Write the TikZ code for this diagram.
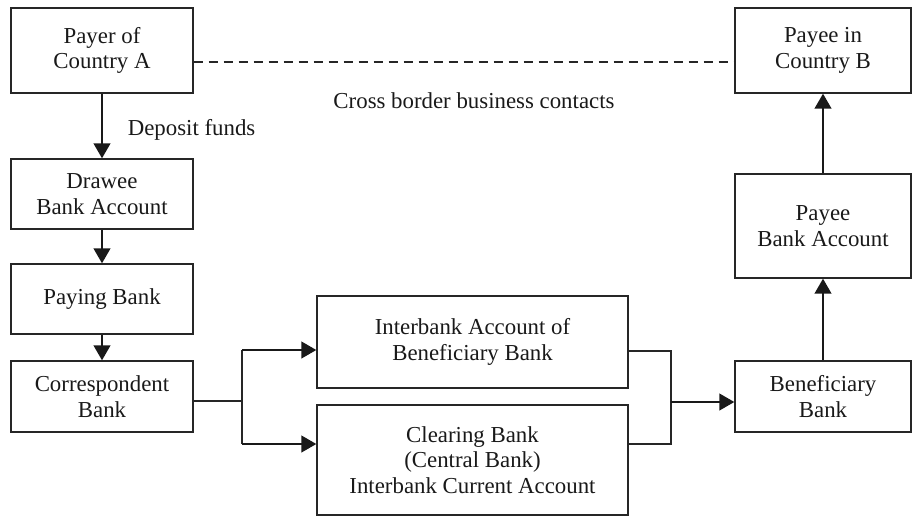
\documentclass[tikz,border=0pt]{standalone}
\usepackage{fontspec}
\setmainfont{Liberation Serif}
\usetikzlibrary{arrows.meta,positioning}

\begin{document}
\begin{tikzpicture}
  [
    x=0.02cm, y=-0.02cm,
    every node/.style={font=\fontsize{13}{14.5}\selectfont, text=black!90},
    boxnode/.style={rectangle, draw=black!85, line width=0.8pt, align=center, inner sep=0pt, minimum width=3.64cm, minimum height=1.4cm},
    rightboxnode/.style={boxnode, minimum width=3.52cm},
    widenode/.style={boxnode, minimum width=6.22cm},
    flowarrow/.style={draw=black!90, line width=1.1pt, -{Triangle[length=8.5pt, width=9.5pt]}},
    thinline/.style={draw=black!85, line width=0.75pt},
    dashline/.style={draw=black!85, line width=0.75pt, dash pattern=on 0.18cm off 0.12cm},
  ]
  \useasboundingbox (0,0) rectangle (912,517);

  % left column
  \node[boxnode, minimum height=1.7cm] (payer) at (102,50.5) {Payer of\\Country A};
  \node[boxnode] (drawee) at (102,194) {Drawee\\Bank Account};
  \node[boxnode] (paying) at (102,299) {Paying Bank};
  \node[boxnode, minimum height=1.42cm] (corresp) at (102,396.5) {Correspondent\\Bank};

  % middle column
  \node[widenode, minimum height=1.84cm] (interbank) at (472.5,342) {Interbank Account of\\Beneficiary Bank};
  \node[widenode, minimum height=2.2cm] (clearing) at (472.5,460) {Clearing Bank\\(Central Bank)\\Interbank Current Account};

  % right column
  \node[rightboxnode, minimum height=1.7cm] (payee) at (823,50.5) {Payee in\\Country B};
  \node[rightboxnode, minimum height=2.08cm] (payeebank) at (823,226) {Payee\\Bank Account};
  \node[rightboxnode, minimum height=1.42cm] (benef) at (823,396.5) {Beneficiary\\Bank};

  \node (crossborder) at (474,101) {Cross border business contacts};

  % connectors
  \draw[dashline] (payer.east |- 0,62) -- (payee.west |- 0,62);
  \draw[flowarrow] (payer) -- node[right=0.38cm, yshift=-0.08cm] (deposit) {Deposit funds} (drawee);
  \draw[flowarrow] (drawee) -- (paying);
  \draw[flowarrow] (paying) -- (corresp);

  \coordinate (fork) at (242,401);
  \coordinate (join) at (671,402);
  \draw[thinline] (corresp.east |- fork) -- (fork);
  \draw[thinline] (fork) -- (242,350);
  \draw[thinline] (fork) -- (242,444);
  \draw[flowarrow] (242,350) -- (interbank.west |- 0,350);
  \draw[flowarrow] (242,444) -- (clearing.west |- 0,444);

  \draw[thinline] (interbank.east |- 0,351) -| (join);
  \draw[thinline] (clearing.east |- 0,444) -| (join);
  \draw[flowarrow] (join) -- (benef.west |- join);
  \draw[flowarrow] (benef) -- (payeebank);
  \draw[flowarrow] (payeebank) -- (payee);
\end{tikzpicture}
\end{document}
